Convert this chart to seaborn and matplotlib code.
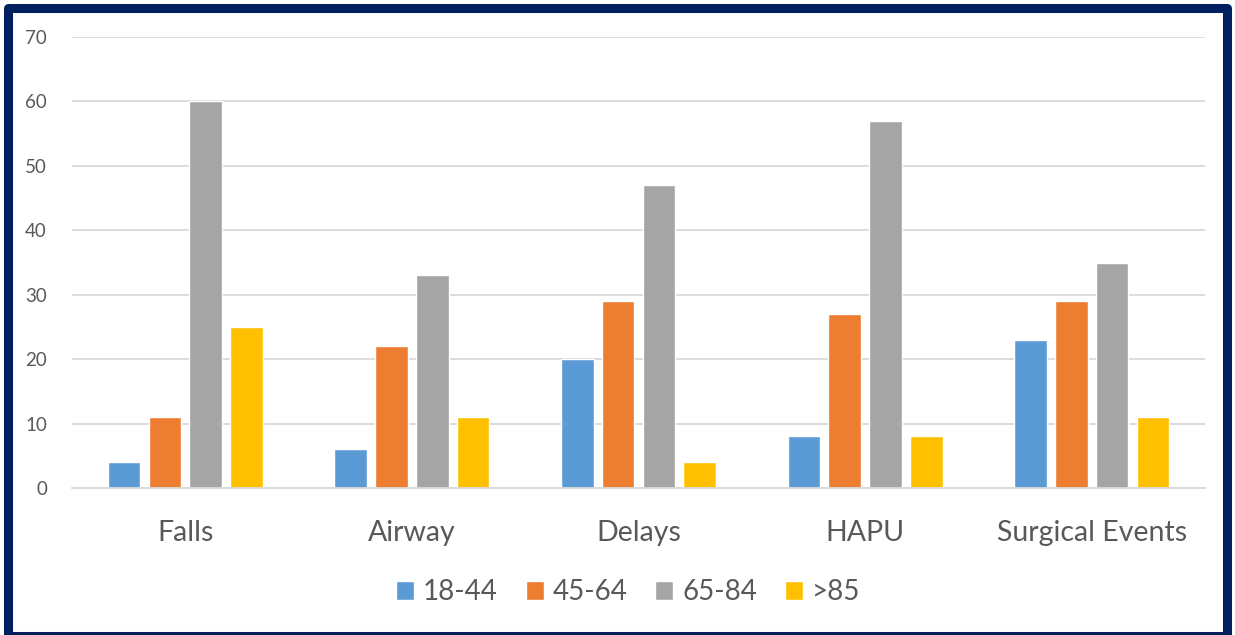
import matplotlib
matplotlib.use("Agg")
import matplotlib.pyplot as plt
import seaborn as sns
import pandas as pd
from matplotlib.patches import Rectangle

categories = ["Falls", "Airway", "Delays", "HAPU", "Surgical Events"]
age_groups = ["18-44", "45-64", "65-84", ">85"]
vals_18_44 = [4, 6, 20, 8, 23]
vals_45_64 = [11, 22, 29, 27, 29]
vals_65_84 = [60, 33, 47, 57, 35]
vals_85 = [25, 11, 4, 8, 11]
colors = ["#5B9BD5", "#ED7D31", "#A5A5A5", "#FFC000"]
yticks = [0, 10, 20, 30, 40, 50, 60, 70]

rows = []
for grp, vals in zip(age_groups, [vals_18_44, vals_45_64, vals_65_84, vals_85]):
    for c, v in zip(categories, vals):
        rows.append({"Category": c, "Age": grp, "Count": v})
df = pd.DataFrame(rows)

sns.set_theme(style="white")
plt.rcParams["font.family"] = ["Lato", "DejaVu Sans"]

fig = plt.figure(figsize=(12.35, 6.35), dpi=100)
ax = fig.add_axes([72/1235, 1-488/635, (1205-72)/1235, (488-37)/635])

sns.barplot(data=df, x="Category", y="Count", hue="Age", order=categories,
            hue_order=age_groups, palette=colors, width=0.72, gap=0.2,
            ax=ax, legend=True, saturation=1)

ax.set_ylim(0, 70)
ax.set_xlim(-0.5, 4.5)
ax.set_yticks(yticks)
ax.set_yticklabels([str(t) for t in yticks], fontsize=13.5, color="#595959")
ax.tick_params(axis="y", length=0, pad=18)
ax.tick_params(axis="x", length=0, pad=23, labelsize=20.5, labelcolor="#595959")
ax.yaxis.grid(True, color="#D9D9D9", linewidth=1.3)
ax.set_axisbelow(True)
for s in ["top", "right", "left"]:
    ax.spines[s].set_visible(False)
ax.spines["bottom"].set_color("#D9D9D9")
ax.spines["bottom"].set_linewidth(1.3)
ax.set_xlabel("")
ax.set_ylabel("")

handles, labels = ax.get_legend_handles_labels()
ax.get_legend().remove()
fig.legend(handles, labels, loc="center", bbox_to_anchor=(628/1235, 1-592/635),
           ncol=4, frameon=False, fontsize=20, handlelength=0.65, handleheight=0.65,
           handletextpad=0.32, columnspacing=1.0, labelcolor="#595959")

border = Rectangle((7.5/1235, -0.5/635), (1227-7.5)/1235, (627-0)/635 + 0.5/635,
                   transform=fig.transFigure, fill=False, edgecolor="#002060",
                   linewidth=6.5, clip_on=False, joinstyle="round")
fig.patches.append(border)

fig.savefig("out.png", dpi=100)
